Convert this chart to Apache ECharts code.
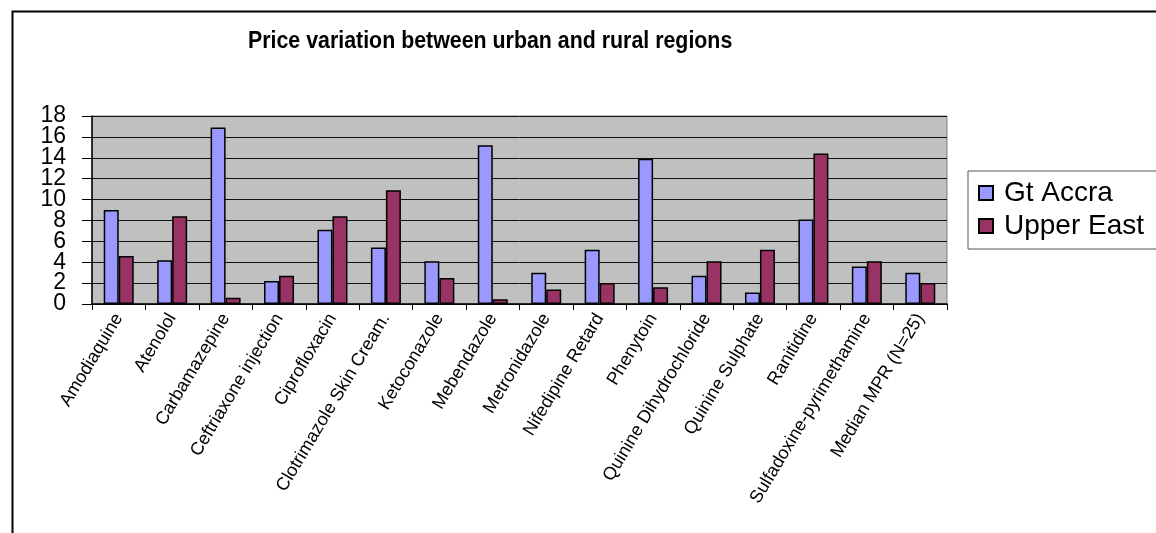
<!DOCTYPE html>
<html>
<head>
<meta charset="utf-8">
<script src="https://cdn.jsdelivr.net/npm/echarts@6/dist/echarts.min.js"></script>
<style>
  html, body { margin: 0; padding: 0; background: #fff; }
  #chart { width: 1156px; height: 533px; }
</style>
</head>
<body>
<div id="chart"></div>
<script>
// Medicines compared (last entry is the median over all 25)
const categories = [
  'Amodiaquine', 'Atenolol', 'Carbamazepine', 'Ceftriaxone injection',
  'Ciprofloxacin', 'Clotrimazole Skin Cream.', 'Ketoconazole', 'Mebendazole',
  'Metronidazole', 'Nifedipine Retard', 'Phenytoin', 'Quinine Dihydrochloride',
  'Quinine Sulphate', 'Ranitidine', 'Sulfadoxine-pyrimethamine', 'Median MPR (N=25)'
];

// Median price ratios per region
const gtAccra   = [9.0, 4.2, 16.9, 2.2, 7.1, 5.4, 4.1, 15.2, 3.0, 5.2, 13.9, 2.7, 1.1, 8.1, 3.6, 3.0];
const upperEast = [4.6, 8.4, 0.6, 2.7, 8.4, 10.9, 2.5, 0.45, 1.4, 2.0, 1.6, 4.1, 5.2, 14.4, 4.1, 2.0];

const seriesNames = ['Gt Accra', 'Upper East'];
const yTicks = { min: 0, max: 18, interval: 2 };
// value-axis tick labels, bottom to top
const yTickLabels = ['0', '2', '4', '6', '8', '10', '12', '14', '16', '18'];
const chartTitle = 'Price variation between urban and rural regions';

const FONT = "'Liberation Sans', Arial, sans-serif";

const chart = echarts.init(document.getElementById('chart'));
chart.setOption({
  backgroundColor: '#ffffff',
  animation: false,
  graphic: [
    {
      // outer frame of the chart area
      type: 'rect',
      left: 10, top: 9,
      shape: { width: 1200, height: 600 },
      style: { fill: 'none', stroke: '#000', lineWidth: 2 },
      silent: true
    },
    {
      // chart title, slightly condensed
      type: 'text',
      x: 248, y: 29,
      scaleX: 0.89,
      style: {
        text: chartTitle,
        font: "bold 24px 'Liberation Sans', Arial, sans-serif",
        fill: '#000',
        textVerticalAlign: 'top'
      },
      silent: true
    }
  ],
  legend: {
    data: seriesNames,
    orient: 'vertical',
    left: 968, top: 171,
    padding: [8, 40, 9, 10],
    icon: 'rect',
    itemWidth: 14, itemHeight: 14,
    itemGap: 5,
    borderColor: '#555', borderWidth: 1,
    backgroundColor: '#fff',
    textStyle: { fontFamily: FONT, fontSize: 28, color: '#000', padding: [0, 0, 0, 6] }
  },
  grid: {
    left: 92, right: 209, top: 116, bottom: 229,
    show: true, backgroundColor: '#c0c0c0',
    borderColor: '#808080', borderWidth: 1
  },
  xAxis: {
    type: 'category',
    data: categories,
    axisLine: { lineStyle: { color: '#000', width: 1.5 } },
    axisTick: { show: true, length: 6, lineStyle: { color: '#000' } },
    axisLabel: {
      interval: 0, rotate: 59, margin: 11,
      fontFamily: FONT, fontSize: 18, color: '#000'
    },
    splitLine: { show: false }
  },
  yAxis: [
    {
      // value scale used by the bars
      type: 'value',
      position: 'left',
      min: yTicks.min, max: yTicks.max, interval: yTicks.interval,
      axisLine: { show: true, lineStyle: { color: '#000', width: 1.5 } },
      axisTick: { show: true, length: 10, lineStyle: { color: '#000' } },
      axisLabel: { show: false },
      splitLine: { show: true, lineStyle: { color: '#111', width: 1 } }
    },
    {
      // tick labels for the value scale, every step shown even when tightly packed
      type: 'category',
      position: 'left',
      data: yTickLabels,
      boundaryGap: false,
      axisLine: { show: false },
      axisTick: { show: false },
      splitLine: { show: false },
      axisLabel: {
        interval: 0, margin: 26,
        fontFamily: FONT, fontSize: 23, color: '#000'
      }
    }
  ],
  series: [
    {
      name: seriesNames[0], type: 'bar', data: gtAccra,
      yAxisIndex: 0,
      barWidth: 15, barGap: '0%',
      itemStyle: { color: '#9999ff', borderColor: '#000', borderWidth: 1.5 }
    },
    {
      name: seriesNames[1], type: 'bar', data: upperEast,
      yAxisIndex: 0,
      barWidth: 15,
      itemStyle: { color: '#993366', borderColor: '#000', borderWidth: 1.5 }
    }
  ]
});
</script>
</body>
</html>
